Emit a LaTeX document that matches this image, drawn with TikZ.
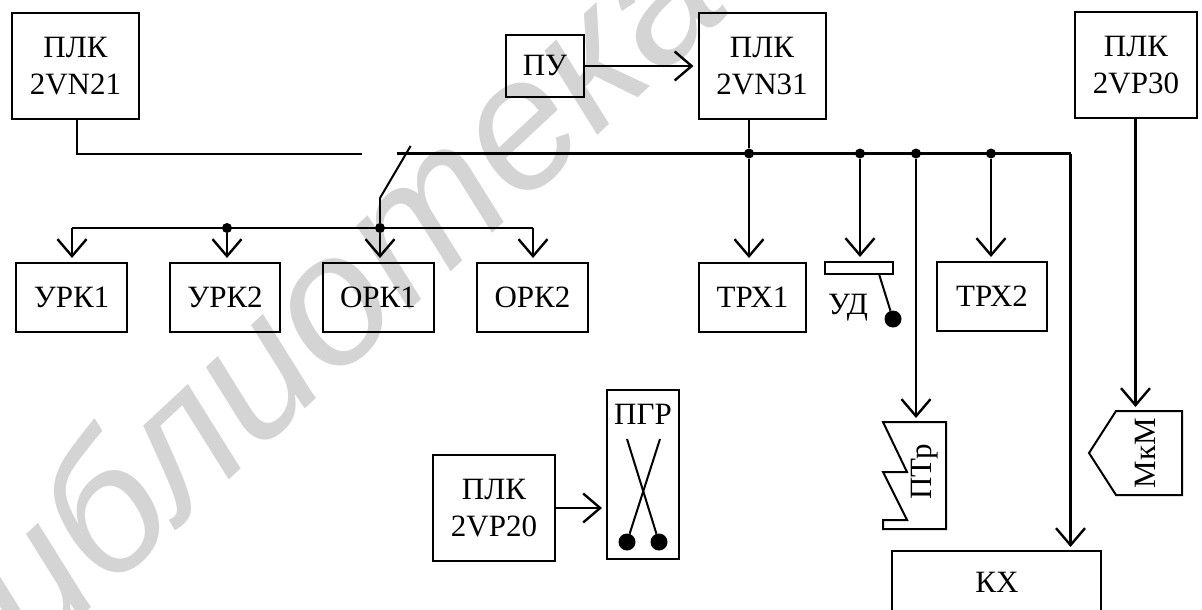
\documentclass[tikz,border=0pt]{standalone}
\usepackage{fontspec}
\setmainfont{Liberation Serif}
\newfontfamily\wmfont{Liberation Sans}
\usetikzlibrary{arrows.meta,positioning,calc}

\tikzset{
	blockbox/.style={draw, line width=2pt, inner sep=0pt, align=center, font=\fontsize{31}{37.5}\selectfont},
	lbl/.style={inner sep=0pt, font=\fontsize{31}{37.5}\selectfont},
	wire/.style={line width=2.4pt},
	thinwire/.style={line width=2pt},
	flow/.style={wire, -{Straight Barb[length=17pt,width=29pt,line width=2.4pt]}, shorten >=4pt},
	junct/.style={circle, fill=black, inner sep=0pt, minimum size=10pt},
	ball/.style={circle, fill=black, inner sep=0pt, minimum size=17pt}
}

\begin{document}
\begin{tikzpicture}[x=1pt,y=-1pt]
	\useasboundingbox (0,0) rectangle (1202,610);

	\node[rotate=43, text=black!17, inner sep=0pt, font=\fontsize{185}{185}\selectfont\wmfont\itshape] (mark) at (300,322) {библиотека};

	\node[blockbox, minimum width=127pt, minimum height=106pt] (plcA) at (75.5,66) {ПЛК\\2VN21};
	\node[blockbox, minimum width=78pt, minimum height=62pt] (pu) at (545,66) {ПУ};
	\node[blockbox, minimum width=127pt, minimum height=106pt] (plcB) at (762,66) {ПЛК\\2VN31};
	\node[blockbox, minimum width=122pt, minimum height=106pt] (plcC) at (1136,65) {ПЛК\\2VP30};

	\node[blockbox, minimum width=111pt, minimum height=69pt] (urkA) at (71.5,297.5) {УРК1};
	\node[blockbox, minimum width=110pt, minimum height=69pt] (urkB) at (225,297.5) {УРК2};
	\node[blockbox, minimum width=111pt, minimum height=69pt] (orkA) at (378,297.5) {ОРК1};
	\node[blockbox, minimum width=111pt, minimum height=69pt] (orkB) at (532.5,297.5) {ОРК2};
	\node[blockbox, minimum width=107pt, minimum height=69pt] (trhA) at (752.5,297.5) {ТРХ1};
	\node[blockbox, minimum width=110pt, minimum height=69pt] (trhB) at (992,296.5) {ТРХ2};

	\node[draw, line width=2pt, inner sep=0pt, minimum width=68pt, minimum height=12pt] (ud) at (859,268) {};
	\node[lbl] (udtext) at (848,308) {УД};
	\node[ball] (udball) at (893,319) {};
	\coordinate (udpin) at (879,274);
	\draw[thinwire] (udpin) -- (udball);

	\node[blockbox, minimum width=122pt, minimum height=106pt] (plcD) at (494,508) {ПЛК\\2VP20};
	\node[draw, line width=2pt, inner sep=0pt, minimum width=72pt, minimum height=169pt] (pgr) at (643,474.5) {};
	\node[lbl] (pgrtext) at (643,414) {ПГР};
	\node[ball] (ballL) at (627,542) {};
	\node[ball] (ballR) at (659,542) {};
	\coordinate (crossL) at (627,439);
	\coordinate (crossR) at (660,439);
	\draw[thinwire] (crossL) -- (ballR);
	\draw[thinwire] (crossR) -- (ballL);

	\draw[line width=2pt] (883,422) -- (946,422) -- (946,529) -- (883,529) -- (883,520) -- (907,520) -- (883,472) -- (907,472) -- cycle;
	\node[lbl, rotate=90] (pt) at (925,472) {ПТр};
	\coordinate (pttop) at (916,422);

	\draw[line width=2pt] (1116,411) -- (1182,411) -- (1182,495) -- (1116,495) -- (1089,453) -- cycle;
	\node[lbl, rotate=90] (mkm) at (1145,453) {МкМ};
	\coordinate (mkmtop) at (1135.5,411);

	\draw[line width=2pt] (892,625) -- (892,551) -- (1101,551) -- (1101,625);
	\node[lbl] (kh) at (997,582) {КХ};
	\coordinate (khtop) at (1070.5,551);

	\node[junct] (jB) at (749,153.5) {};
	\node[junct] (jU) at (860,153.5) {};
	\node[junct] (jP) at (916,153.5) {};
	\node[junct] (jT) at (991,153.5) {};
	\node[junct] (jK) at (227,228) {};
	\node[junct] (jO) at (380,228) {};

	\coordinate (gapL) at (362,154);
	\coordinate (gapR) at (396.5,153.5);
	\coordinate (corner) at (1070.5,153.5);
	\coordinate (swtop) at (410.6,146);
	\coordinate (swbot) at (380,198);
	\coordinate (busL) at (72,228);
	\coordinate (busR) at (533,228);
	\coordinate (plcAout) at (77,119);

	\draw[wire] (plcAout) |- (gapL);
	\draw[wire] (gapR) -- (corner);
	\draw[thinwire] (swtop) -- (swbot);
	\draw[wire] (swbot) -- (jO);
	\draw[wire] (busL) -- (busR);
	\draw[wire] (plcB.south -| jB) -- (jB);

	\draw[flow] (pu) -- (plcB.west |- pu);
	\draw[flow] (plcD) -- (pgr.west |- plcD);
	\draw[flow] (busL) -- (busL |- urkA.north);
	\draw[flow] (jK) -- (jK |- urkB.north);
	\draw[flow] (jO) -- (jO |- orkA.north);
	\draw[flow] (busR) -- (busR |- orkB.north);
	\draw[flow] (jB) -- (jB |- trhA.north);
	\draw[flow] (jU) -- (jU |- ud.north);
	\draw[flow] (jT) -- (jT |- trhB.north);
	\draw[flow] (jP) -- (pttop);
	\draw[flow] (corner) -- (khtop);
	\draw[flow] (plcC.south -| mkmtop) -- (mkmtop);
\end{tikzpicture}
\end{document}
